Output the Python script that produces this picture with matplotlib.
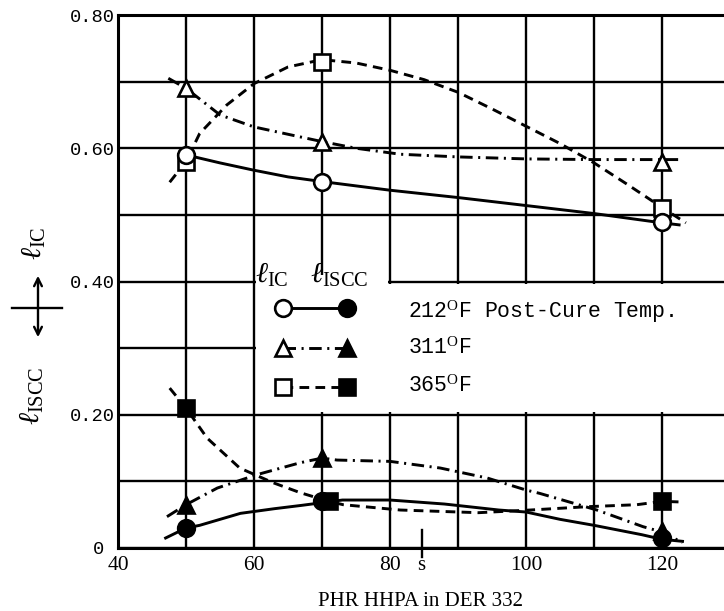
import matplotlib
matplotlib.use('Agg')
import matplotlib.pyplot as plt
from matplotlib.patches import Rectangle
from matplotlib.lines import Line2D

plt.rcParams['mathtext.fontset'] = 'custom'
plt.rcParams['mathtext.rm'] = 'Liberation Serif'
plt.rcParams['mathtext.it'] = 'Liberation Serif:italic'
plt.rcParams['lines.scale_dashes'] = False

# measured points (PHR HHPA in DER 332)
phr = [50, 70, 120]
phr_iscc_365 = [50, 71, 120]

ic_212 = [0.59, 0.55, 0.49]
ic_311 = [0.69, 0.61, 0.58]
ic_365 = [0.58, 0.73, 0.51]

iscc_212 = [0.03, 0.07, 0.015]
iscc_311 = [0.065, 0.135, 0.025]
iscc_365 = [0.21, 0.07, 0.07]

# hand-faired curves
ic_212_cx = [50, 55, 60, 65, 70, 80, 90, 100, 110, 120, 122.5]
ic_212_cy = [0.59, 0.578, 0.567, 0.557, 0.55, 0.537, 0.526, 0.514, 0.502, 0.488, 0.485]

ic_311_cx = [47.4, 50, 55, 60, 66.8, 70, 75, 81.5, 90, 100, 110, 120, 123]
ic_311_cy = [0.705, 0.69, 0.65, 0.632, 0.617, 0.61, 0.6, 0.591, 0.587, 0.584, 0.583, 0.583, 0.583]

ic_365_cx = [47.6, 50, 52, 56, 60, 65, 70, 75, 80, 85, 90, 95, 100, 105, 110, 115, 120, 123.5]
ic_365_cy = [0.549, 0.58, 0.622, 0.665, 0.697, 0.722, 0.733, 0.728, 0.717, 0.703, 0.684,
             0.659, 0.633, 0.607, 0.578, 0.545, 0.511, 0.488]

iscc_212_cx = [47, 50, 52, 58, 63, 67, 70, 73, 80, 88, 96, 100, 105, 110, 117, 120, 123]
iscc_212_cy = [0.015, 0.03, 0.034, 0.052, 0.059, 0.064, 0.068, 0.072, 0.072, 0.066, 0.057,
               0.054, 0.043, 0.034, 0.02, 0.013, 0.01]

iscc_311_cx = [47.2, 50, 54.6, 60.4, 66.8, 70, 72.2, 80, 87.4, 94.3, 100, 102, 110.4, 117.2, 120, 123]
iscc_311_cy = [0.047, 0.065, 0.09, 0.11, 0.128, 0.135, 0.132, 0.13, 0.12, 0.105, 0.087, 0.082,
               0.057, 0.032, 0.024, 0.008]

iscc_365_cx = [47.6, 50, 53.1, 57.9, 62.8, 66.8, 71, 73.1, 81.5, 93, 100.6, 109, 116.3, 120, 123]
iscc_365_cy = [0.24, 0.21, 0.165, 0.12, 0.098, 0.083, 0.07, 0.065, 0.057, 0.053, 0.057, 0.062,
               0.065, 0.07, 0.069]

x_ticks = [40, 50, 60, 70, 80, 90, 100, 110, 120]
x_ticklabels = ['40', '', '60', '', '80', '', '100', '', '120']
y_ticks = [0, 0.1, 0.2, 0.3, 0.4, 0.5, 0.6, 0.7, 0.8]
y_ticklabels = ['0 ', '', '0.20', '', '0.40', '', '0.60', '', '0.80']

legend_labels = [r'212$^{\rm O}$F Post-Cure Temp.', r'311$^{\rm O}$F', r'365$^{\rm O}$F']

solid = '-'
dashdot = (0, (9, 4, 1.5, 4))
dashed = (0, (7, 4.5))

fig = plt.figure(figsize=(7.24, 6.11), dpi=100)
ax = fig.add_axes([118 / 724, 63 / 611, 606 / 724, 533 / 611])
ax.set_xlim(40, 129.1)
ax.set_ylim(0, 0.8)

# grid (drawn as in the original, heavy black lines)
ax.set_axisbelow(True)
ax.set_xticks(x_ticks)
ax.set_xticklabels(x_ticklabels, family='Liberation Serif', fontsize=15.5)
ax.set_yticks(y_ticks)
ax.set_yticklabels(y_ticklabels, family='Liberation Mono', fontsize=13.5)
ax.tick_params(length=0)
ax.tick_params(axis='x', pad=6)
ax.tick_params(axis='y', pad=2)
ax.grid(True, color='black', lw=1.7)
for side in ['left', 'bottom', 'top']:
    ax.spines[side].set_linewidth(2.2)
ax.spines['right'].set_visible(False)

# blank area around the key
ax.add_patch(Rectangle((60.35, 0.204), 70, 0.192, facecolor='white', edgecolor='none', zorder=1))
ax.add_patch(Rectangle((60.35, 0.39), 19.3, 0.02, facecolor='white', edgecolor='none', zorder=1))

# curves
ax.plot(ic_212_cx, ic_212_cy, color='k', lw=2.1, ls=solid, zorder=2)
ax.plot(ic_311_cx, ic_311_cy, color='k', lw=2.1, ls=dashdot, zorder=2)
ax.plot(ic_365_cx, ic_365_cy, color='k', lw=2.1, ls=dashed, zorder=2)
ax.plot(iscc_212_cx, iscc_212_cy, color='k', lw=2.1, ls=solid, zorder=2)
ax.plot(iscc_311_cx, iscc_311_cy, color='k', lw=2.1, ls=dashdot, zorder=2)
ax.plot(iscc_365_cx, iscc_365_cy, color='k', lw=2.1, ls=dashed, zorder=2)

# points
mk = dict(ls='none', mec='k', mew=1.9, zorder=3)
ax.plot(phr, ic_365, marker='s', ms=11, mfc='white', **mk)
ax.plot(phr, ic_212, marker='o', ms=12, mfc='white', **mk)
ax.plot(phr, ic_311, marker='^', ms=12, mfc='white', **mk)
ax.plot(phr, iscc_212, marker='o', ms=12, mfc='k', **mk)
ax.plot(phr_iscc_365, iscc_365, marker='s', ms=11, mfc='k', **mk)
ax.plot(phr, iscc_311, marker='^', ms=12, mfc='k', **mk)

# key
ax.text(0.226, 0.497, r'$\ell_{\rm IC}$', transform=ax.transAxes, fontsize=21, va='baseline', zorder=4)
ax.text(0.317, 0.497, r'$\ell_{\rm ISCC}$', transform=ax.transAxes, fontsize=21, va='baseline', zorder=4)
key_rows = [('o', solid, 0.450, 0.4315), ('^', dashdot, 0.375, 0.364), ('s', dashed, 0.302, 0.2927)]
for (m, style, yk, yt), label in zip(key_rows, legend_labels):
    ms = 11 if m == 's' else 12
    ax.plot([0.272, 0.378], [yk, yk], transform=ax.transAxes, color='k', lw=2.1, ls=style, zorder=2)
    ax.plot([0.272], [yk], transform=ax.transAxes, marker=m, ms=ms, mfc='white', **mk)
    ax.plot([0.378], [yk], transform=ax.transAxes, marker=m, ms=ms, mfc='k', **mk)
    ax.text(0.4785, yt, label, transform=ax.transAxes, family='Liberation Mono', fontsize=15.5,
            va='baseline', zorder=4)

ax.set_xlabel('PHR HHPA in DER 332', family='Liberation Serif', fontsize=15, labelpad=12)

# y label: l_ISCC <-> l_IC
fig.text(34 / 724, 1 - 243 / 611, r'$\ell_{\rm IC}$', rotation=90, ha='center', va='center', fontsize=21)
fig.text(32 / 724, 1 - 396 / 611, r'$\ell_{\rm ISCC}$', rotation=90, ha='center', va='center', fontsize=21)
ax.annotate('', xy=(38 / 724, 1 - 273 / 611), xytext=(38 / 724, 1 - 340 / 611),
            xycoords='figure fraction', textcoords='figure fraction',
            arrowprops=dict(arrowstyle='<->', lw=1.7, color='k', mutation_scale=14))
fig.add_artist(Line2D([12 / 724, 62 / 724], [1 - 308 / 611, 1 - 308 / 611],
                      transform=fig.transFigure, color='k', lw=1.7))

# stray mark next to the 80 label in the scan
fig.add_artist(Line2D([422 / 724, 422 / 724], [1 - 530 / 611, 1 - 557 / 611],
                      transform=fig.transFigure, color='k', lw=1.7))
fig.text(421 / 724, 1 - 566 / 611, 's', family='Liberation Serif', fontsize=15, ha='center', va='center')

fig.savefig('out.png', dpi=100)
